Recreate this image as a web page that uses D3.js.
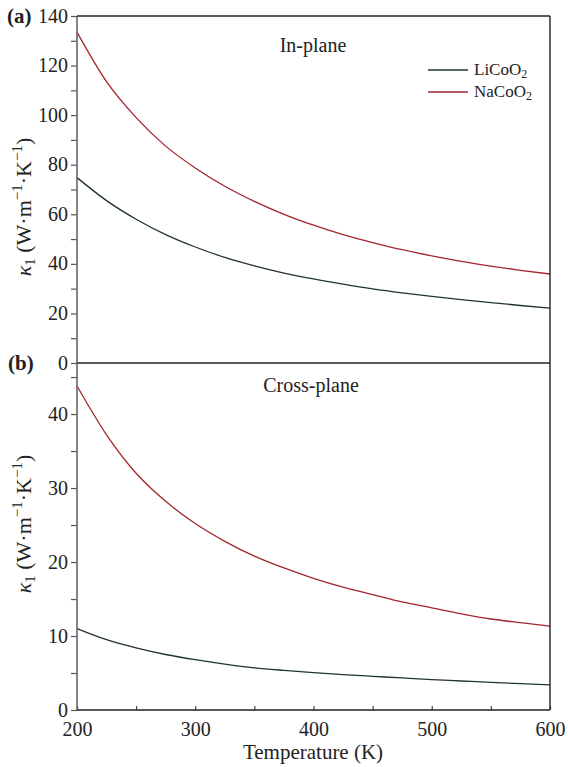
<!DOCTYPE html>
<html>
<head>
<meta charset="utf-8">
<script src="https://cdn.jsdelivr.net/npm/d3@7"></script>
<style>
  body { margin: 0; background: #fff; }
  svg, svg text { font-family: "Liberation Serif", "Times New Roman", serif; }
</style>
</head>
<body>
<svg id="chart"></svg>
<script>
// chart data
const temps = [200, 225, 250, 275, 300, 325, 350, 375, 400, 425, 450, 475, 500, 525, 550, 575, 600];

const inLiCoO2 = [74.8, 65.5, 58, 51.8, 46.8, 42.6, 39.2, 36.3, 33.9, 31.8, 29.9, 28.3, 26.9, 25.6, 24.4, 23.2, 22.1];
const inNaCoO2 = [133.5, 113.5, 99, 87.5, 78.7, 71.3, 65.2, 60, 55.6, 51.8, 48.6, 45.7, 43.2, 41, 39.1, 37.4, 35.9];

const crossLiCoO2 = [11.0, 9.5, 8.4, 7.5, 6.8, 6.2, 5.7, 5.35, 5.05, 4.78, 4.55, 4.33, 4.1, 3.92, 3.74, 3.57, 3.4];
const crossNaCoO2 = [43.8, 37.2, 32, 28.2, 25.2, 22.8, 20.8, 19.2, 17.8, 16.6, 15.6, 14.6, 13.8, 13.0, 12.3, 11.8, 11.35];

const xTicks = [200, 300, 400, 500, 600];
const xMinor = [250, 350, 450, 550];
const yTicksA = [0, 20, 40, 60, 80, 100, 120, 140];
const yMinorA = [10, 30, 50, 70, 90, 110, 130];
const yTicksB = [0, 10, 20, 30, 40];
const yMinorB = [5, 15, 25, 35, 45];

const seriesNames = ["LiCoO", "NaCoO"];
const colors = ["#1f3333", "#a3262e"];

const width = 568;
const height = 767;
const left = 77, right = 550;
const topA = 16, mid = 363, bottom = 710;
const serif = "'Liberation Serif', 'Times New Roman', serif";

const svg = d3.select("#chart")
    .attr("width", width)
    .attr("height", height);

const x = d3.scaleLinear().domain([200, 600]).range([left, right]);
const yA = d3.scaleLinear().domain([0, 140]).range([mid, topA]);
const yB = d3.scaleLinear().domain([0, 46.9]).range([bottom, mid]);

const line = (ys) => d3.line()
    .x((d, i) => x(temps[i]))
    .y(d => ys(d))
    .curve(d3.curveMonotoneX);

// curves
const panels = [
    { y: yA, data: [inLiCoO2, inNaCoO2] },
    { y: yB, data: [crossLiCoO2, crossNaCoO2] }
];
panels.forEach(p => {
    p.data.forEach((vals, k) => {
        svg.append("path")
            .datum(vals)
            .attr("d", line(p.y))
            .attr("fill", "none")
            .attr("stroke", colors[k])
            .attr("stroke-width", 1.3);
    });
});

// y axes
function yAxis(scale, major, minor) {
    const g = svg.append("g").attr("transform", `translate(${left},0)`);
    g.call(d3.axisLeft(scale).tickValues(major).tickSize(6).tickPadding(3).tickFormat(d3.format("d")));
    g.append("g").call(d3.axisLeft(scale).tickValues(minor).tickSize(6).tickFormat(""));
    g.selectAll(".domain").remove();
    g.selectAll("line").attr("stroke", "#555").attr("stroke-width", 1.2);
    g.attr("font-family", null);
    g.selectAll("g").attr("font-family", null);
    g.selectAll("text")
        .style("font-family", serif)
        .attr("font-size", 20)
        .attr("dy", "0.3em")
        .attr("fill", "#222");
    return g;
}
yAxis(yA, yTicksA, yMinorA);
yAxis(yB, yTicksB, yMinorB);

// x axis, ticks inside
const gx = svg.append("g").attr("transform", `translate(0,${bottom})`);
gx.call(d3.axisBottom(x).tickValues(xTicks).tickSize(-4).tickPadding(12).tickFormat(d3.format("d")));
gx.append("g").call(d3.axisBottom(x).tickValues(xMinor).tickSize(-4).tickFormat(""));
gx.selectAll(".domain").remove();
gx.selectAll("line").attr("stroke", "#444").attr("stroke-width", 1.2);
gx.attr("font-family", null);
gx.selectAll("text")
    .style("font-family", serif)
    .attr("font-size", 20)
    .attr("fill", "#222");

// frame
svg.append("line").attr("x1", left).attr("x2", left).attr("y1", topA).attr("y2", bottom)
    .attr("stroke", "#666").attr("stroke-width", 1.6);
[topA, mid, bottom].forEach(yy => {
    svg.append("line").attr("x1", left).attr("x2", right).attr("y1", yy).attr("y2", yy)
        .attr("stroke", "#222").attr("stroke-width", 1.4);
});
svg.append("line").attr("x1", right).attr("x2", right).attr("y1", topA).attr("y2", bottom)
    .attr("stroke", "#222").attr("stroke-width", 1.4);

// panel labels
svg.append("text").attr("x", 7).attr("y", 23).attr("font-size", 21).attr("font-weight", "bold")
    .attr("fill", "#222").text("(a)");
svg.append("text").attr("x", 8).attr("y", 370).attr("font-size", 21).attr("font-weight", "bold")
    .attr("fill", "#222").text("(b)");

svg.append("text").attr("x", 313).attr("y", 52).attr("text-anchor", "middle")
    .attr("font-size", 20).attr("fill", "#222").text("In-plane");
svg.append("text").attr("x", 311).attr("y", 392).attr("text-anchor", "middle")
    .attr("font-size", 20).attr("fill", "#222").text("Cross-plane");

// legend
seriesNames.forEach((name, k) => {
    const ly = 70 + k * 22;
    svg.append("line").attr("x1", 428).attr("x2", 468).attr("y1", ly).attr("y2", ly)
        .attr("stroke", colors[k]).attr("stroke-width", 1.3);
    const t = svg.append("text").attr("x", 474).attr("y", ly + 5)
        .attr("font-size", 17).attr("fill", "#222");
    t.append("tspan").text(name);
    t.append("tspan").attr("font-size", 12).attr("dy", 3).text("2");
});

// y labels
function yLabel(cy) {
    const t = svg.append("text")
        .attr("transform", `translate(31,${cy}) rotate(-90)`)
        .attr("text-anchor", "middle")
        .attr("font-size", 22)
        .attr("fill", "#222");
    t.append("tspan").attr("font-style", "italic").text("κ");
    t.append("tspan").attr("font-size", 15).attr("dy", 4).text("1");
    t.append("tspan").attr("dy", -4).text(" (W·m");
    t.append("tspan").attr("font-size", 15).attr("dy", -9).text("−1");
    t.append("tspan").attr("dy", 9).text("·K");
    t.append("tspan").attr("font-size", 15).attr("dy", -9).text("−1");
    t.append("tspan").attr("dy", 9).text(")");
}
yLabel(207);
yLabel(524);

// x title
svg.append("text").attr("x", 313).attr("y", 759).attr("text-anchor", "middle")
    .attr("font-size", 21).attr("fill", "#222").text("Temperature (K)");
</script>
</body>
</html>
